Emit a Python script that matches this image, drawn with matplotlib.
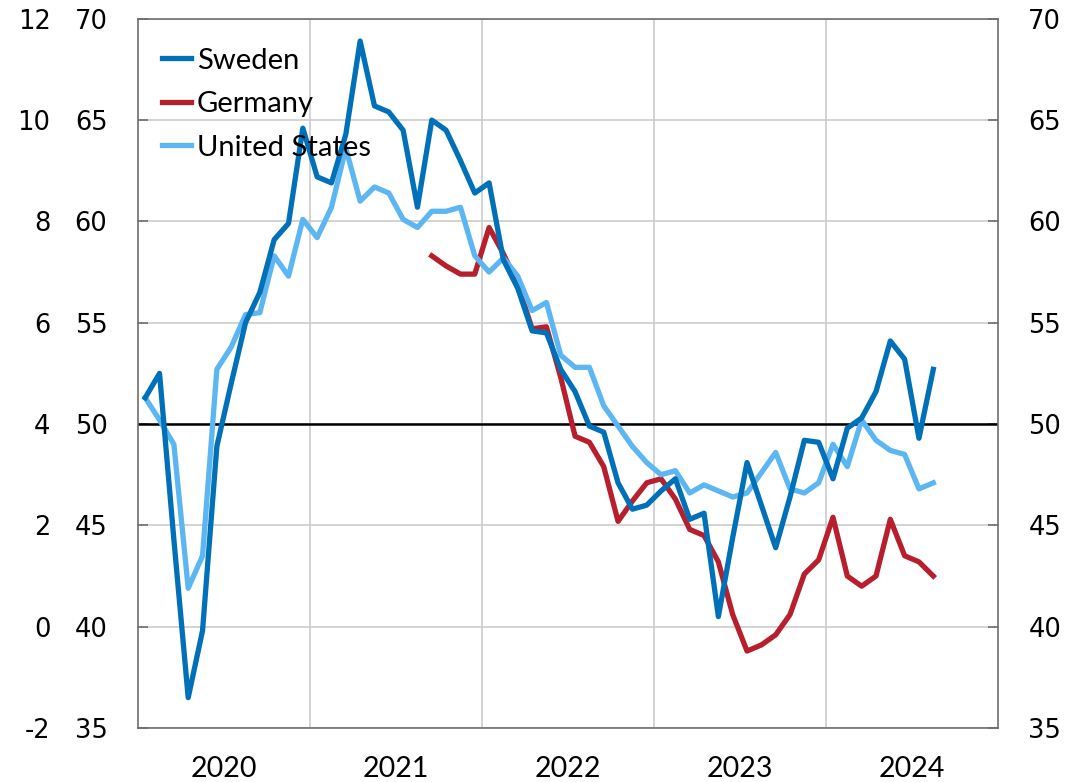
import matplotlib
matplotlib.use("Agg")
import matplotlib.pyplot as plt
import numpy as np

plt.rcParams["axes.unicode_minus"] = False

# monthly data, Jan 2020 - Aug 2024
sweden = [51.3, 52.5, 44.3, 36.5, 39.8, 48.9, 52.0, 55.0, 56.5, 59.1, 59.9, 64.6,
          62.2, 61.9, 64.3, 68.9, 65.7, 65.4, 64.5, 60.7, 65.0, 64.5, 63.0, 61.4,
          61.9, 58.1, 56.7, 54.6, 54.5, 52.7, 51.6, 49.9, 49.6, 47.1, 45.8, 46.0,
          46.7, 47.3, 45.3, 45.6, 40.5, 44.4, 48.1, 46.0, 43.9, 46.4, 49.2, 49.1,
          47.3, 49.8, 50.3, 51.6, 54.1, 53.2, 49.3, 52.7]
germany = [np.nan] * 20 + [
          58.3, 57.8, 57.4, 57.4,
          59.7, 58.4, 56.9, 54.7, 54.8, 52.3, 49.4, 49.1, 47.9, 45.2, 46.2, 47.1,
          47.3, 46.3, 44.8, 44.5, 43.2, 40.6, 38.8, 39.1, 39.6, 40.6, 42.6, 43.3,
          45.4, 42.5, 42.0, 42.5, 45.3, 43.5, 43.2, 42.5]
usa = [51.3, 50.2, 49.0, 41.9, 43.5, 52.7, 53.8, 55.4, 55.5, 58.3, 57.3, 60.1,
       59.2, 60.7, 63.6, 61.0, 61.7, 61.4, 60.1, 59.7, 60.5, 60.5, 60.7, 58.3,
       57.5, 58.2, 57.3, 55.6, 56.0, 53.4, 52.8, 52.8, 50.9, 49.9, 48.9, 48.1,
       47.5, 47.7, 46.6, 47.0, 46.7, 46.4, 46.6, 47.6, 48.6, 46.8, 46.6, 47.1,
       49.0, 47.9, 50.2, 49.2, 48.7, 48.5, 46.8, 47.1]
years = ["2020", "2021", "2022", "2023", "2024"]

C_SWE = "#0070b8"
C_GER = "#b81f2d"
C_USA = "#5cb6f2"
GRID = "#cccccc"
SPINE = "#6e6e6e"

fig = plt.figure(figsize=(10.66, 7.82), dpi=100)
ax = fig.add_axes([0.1295, 0.069, 0.8065, 0.907])

# outer left scale (drawn first so main axes stays on top)
ax2 = ax.twinx()
ax2.set_ylim(-2, 12)
ax2.set_yticks(np.arange(-2, 13, 2))
ax2.yaxis.set_ticks_position("left")
for s in ax2.spines.values():
    s.set_visible(False)
ax2.tick_params(axis="y", length=0, labelsize=18.5, pad=63)

x = np.arange(len(sweden))
ax.plot(x, sweden, color=C_SWE, lw=3.8, label="Sweden", zorder=4)
ax.plot(x, germany, color=C_GER, lw=3.8, label="Germany", zorder=3)
ax.plot(x, usa, color=C_USA, lw=3.8, label="United States", zorder=3.5)
ax.axhline(50, color="black", lw=1.8, zorder=2)

ax.set_xlim(-0.5, 59.5)
ax.set_ylim(35, 70)
ax.set_yticks(np.arange(35, 71, 5))

# year labels centred, gridlines at year boundaries
ax.set_xticks([5.5 + 12 * i for i in range(len(years))])
ax.set_xticklabels(years, fontsize=20.5, family="Lato")
ax.set_xticks([11.5 + 12 * i for i in range(4)], minor=True)
ax.tick_params(axis="x", which="both", length=0, pad=20)
ax.grid(axis="x", which="minor", color=GRID, lw=1.2)
ax.grid(axis="y", which="major", color=GRID, lw=1.2)
ax.set_axisbelow(True)

ax.yaxis.set_ticks_position("both")
ax.tick_params(axis="y", direction="in", length=7, width=1.2, color=SPINE,
               labelsize=18.5, pad=22, left=True, right=True,
               labelleft=True, labelright=True)
for s in ax.spines.values():
    s.set_color(SPINE)
    s.set_linewidth(1.2)

ax.legend(loc="upper left", frameon=False,
          prop={"family": "Lato", "size": 21},
          handlelength=1.0, handletextpad=0.2, labelspacing=0.6,
          borderaxespad=0.3, bbox_to_anchor=(0.004, 0.988))

fig.savefig("out.png", dpi=100)
